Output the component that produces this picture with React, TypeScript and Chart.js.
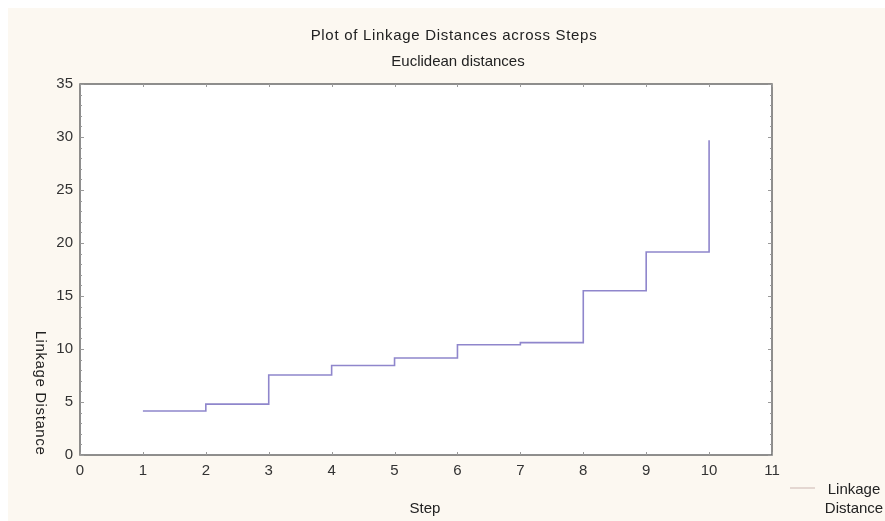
import React, { useEffect, useRef } from "react";
import { Chart, registerables } from "chart.js";

Chart.register(...registerables);

const steps = [1, 2, 3, 4, 5, 6, 7, 8, 9, 10];
const linkageDistance = [4.15, 4.8, 7.55, 8.45, 9.15, 10.4, 10.6, 15.5, 19.15, 29.7];
const xTicks = [0, 1, 2, 3, 4, 5, 6, 7, 8, 9, 10, 11];
const yTicks = [0, 5, 10, 15, 20, 25, 30, 35];
const titleText = "Plot of Linkage Distances across Steps";
const subtitleText = "Euclidean distances";
const xTitle = "Step";
const yTitle = "Linkage Distance";
const seriesLabel = "Linkage Distance";

const FONT = "'Liberation Sans', Arial, sans-serif";
const W = 885;
const H = 521;

const decorPlugin = {
  id: "decor",
  beforeDraw(chart: any) {
    const { ctx, chartArea, width, height } = chart;
    ctx.save();
    ctx.fillStyle = "#ffffff";
    ctx.fillRect(0, 0, width, height);
    ctx.fillStyle = "#fcf8f1";
    ctx.fillRect(8, 8, width - 8, height - 8);
    ctx.fillStyle = "#ffffff";
    ctx.fillRect(chartArea.left, chartArea.top, chartArea.right - chartArea.left, chartArea.bottom - chartArea.top);
    ctx.restore();
  },
  afterDraw(chart: any) {
    const { ctx, chartArea } = chart;
    const { left, right, top, bottom } = chartArea;
    const yScale = chart.scales.y;
    const xScale = chart.scales.x;
    ctx.save();
    // frame
    ctx.strokeStyle = "#6a6a6a";
    ctx.lineWidth = 1.5;
    ctx.strokeRect(left, top, right - left, bottom - top);
    // minor ticks
    ctx.strokeStyle = "#9a9a9a";
    ctx.lineWidth = 1;
    for (let v = 0; v <= 35; v += 1) {
      const py = Math.round(yScale.getPixelForValue(v)) + 0.5;
      const len = v % 5 === 0 ? 4 : 2;
      ctx.beginPath();
      ctx.moveTo(left, py);
      ctx.lineTo(left + len, py);
      ctx.moveTo(right, py);
      ctx.lineTo(right - len, py);
      ctx.stroke();
    }
    for (const v of xTicks) {
      const px = Math.round(xScale.getPixelForValue(v)) + 0.5;
      ctx.beginPath();
      ctx.moveTo(px, top);
      ctx.lineTo(px, top + 3);
      ctx.moveTo(px, bottom);
      ctx.lineTo(px, bottom - 3);
      ctx.stroke();
    }
    // titles
    ctx.fillStyle = "#222";
    ctx.textAlign = "center";
    ctx.textBaseline = "middle";
    ctx.font = `15px ${FONT}`;
    (ctx as any).letterSpacing = "0.7px";
    ctx.fillText(titleText, 454, 36);
    (ctx as any).letterSpacing = "0px";
    ctx.fillText(subtitleText, 458, 62);
    // x title
    ctx.fillText(xTitle, 425, 509);
    // y title (top to bottom)
    ctx.save();
    ctx.translate(40, 393);
    ctx.rotate(Math.PI / 2);
    (ctx as any).letterSpacing = "0.6px";
    ctx.fillText(yTitle, 0, 0);
    ctx.restore();
    (ctx as any).letterSpacing = "0px";
    // legend
    const ds = chart.data.datasets[0];
    ctx.strokeStyle = "#dccdc6";
    ctx.lineWidth = 1.5;
    ctx.beginPath();
    ctx.moveTo(790, 488);
    ctx.lineTo(815, 488);
    ctx.stroke();
    const words = String(ds.label).split(" ");
    ctx.fillStyle = "#222";
    ctx.font = `15px ${FONT}`;
    ctx.textAlign = "center";
    ctx.fillText(words[0], 854, 490);
    ctx.fillText(words.slice(1).join(" "), 854, 509);
    ctx.restore();
  },
};

export default function App() {
  const ref = useRef<HTMLCanvasElement | null>(null);
  useEffect(() => {
    document.documentElement.style.overflow = "hidden";
    if (!ref.current) return;
    const chart = new Chart(ref.current, {
      type: "line",
      data: {
        datasets: [
          {
            label: seriesLabel,
            data: steps.map((s, i) => ({ x: s, y: linkageDistance[i] })),
            borderColor: "#8f86cc",
            borderWidth: 1.6,
            pointRadius: 0,
            stepped: "before",
            fill: false,
          },
        ],
      },
      options: {
        animation: false,
        responsive: false,
        maintainAspectRatio: false,
        layout: { padding: { left: 0, right: 113, top: 84, bottom: 0 } },
        plugins: {
          legend: { display: false },
          tooltip: { enabled: false },
          title: { display: false },
        },
        scales: {
          x: {
            type: "linear",
            min: 0,
            max: 11,
            afterBuildTicks(scale: any) {
              scale.ticks = xTicks.map((v) => ({ value: v }));
            },
            afterFit(scale: any) {
              scale.height = 66;
            },
            grid: { display: false, drawTicks: false },
            border: { display: false },
            ticks: {
              color: "#333",
              font: { family: FONT, size: 15 },
              padding: 7,
              maxRotation: 0,
              autoSkip: false,
            },
          },
          y: {
            type: "linear",
            min: 0,
            max: 35,
            afterBuildTicks(scale: any) {
              scale.ticks = yTicks.map((v) => ({ value: v }));
            },
            afterFit(scale: any) {
              scale.width = 80;
            },
            grid: { display: false, drawTicks: false },
            border: { display: false },
            ticks: {
              color: "#333",
              font: { family: FONT, size: 15 },
              padding: 7,
              autoSkip: false,
            },
          },
        },
      },
      plugins: [decorPlugin],
    });
    return () => chart.destroy();
  }, []);
  return (
    <div style={{ position: "fixed", left: 0, top: 0, width: W, height: H }}>
      <canvas ref={ref} width={W} height={H} style={{ display: "block", width: W, height: H }} />
    </div>
  );
}
